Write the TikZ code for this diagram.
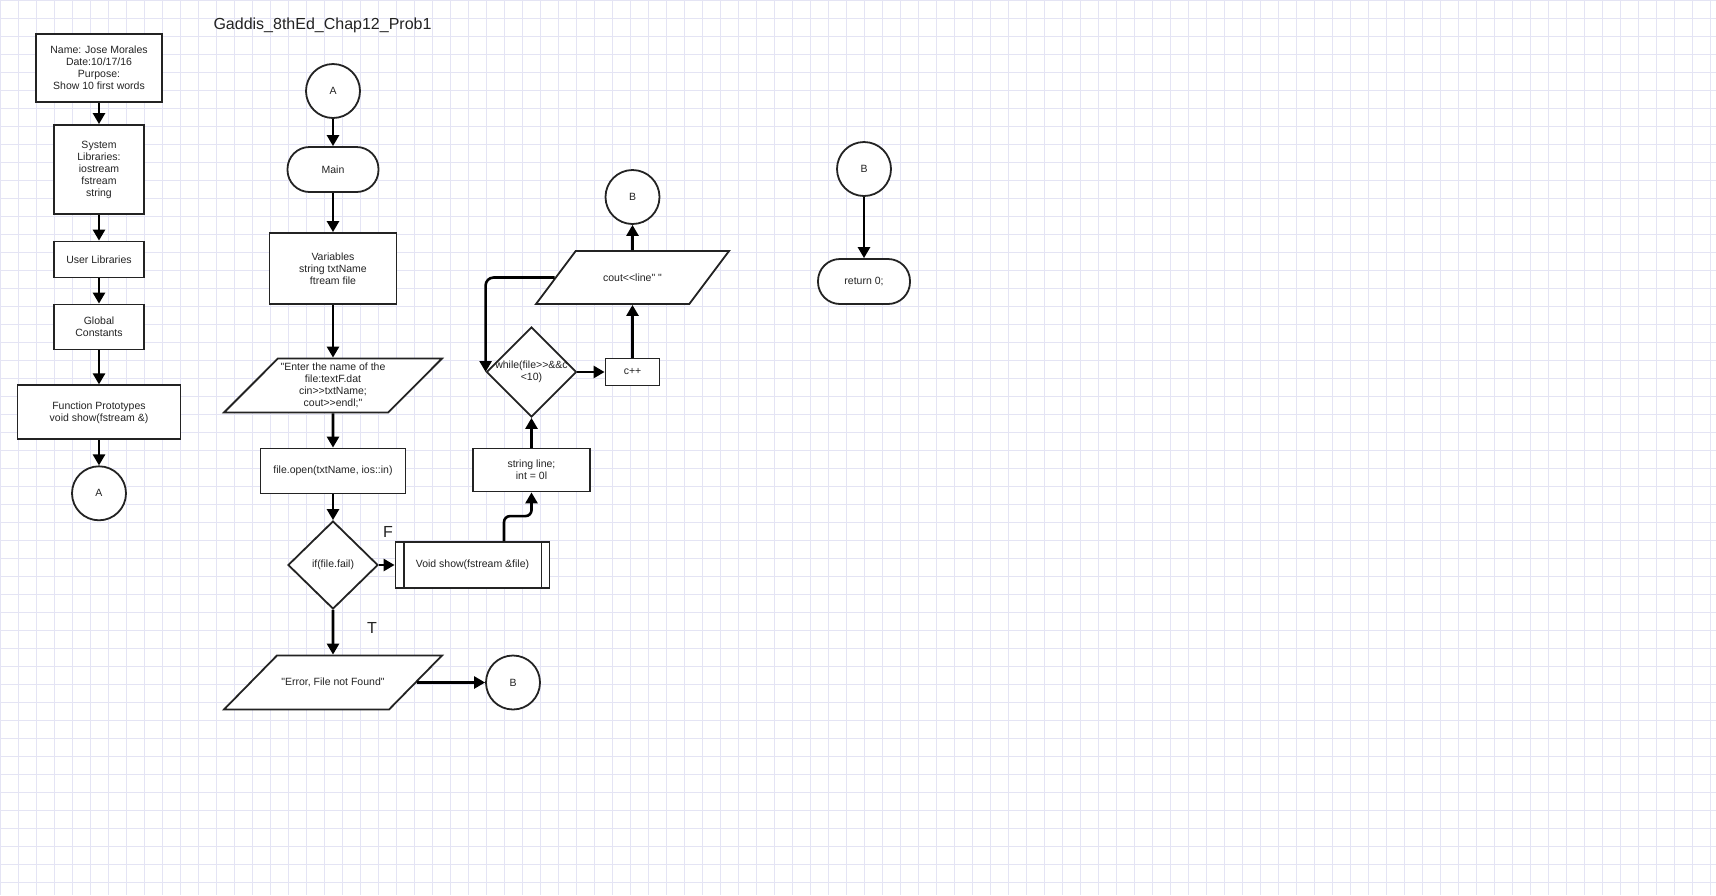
\documentclass[tikz,border=0pt]{standalone}
\usepackage{fontspec}
\setmainfont{Liberation Sans}[Ligatures=TeXOff]
\usetikzlibrary{shapes,arrows.meta}
\definecolor{gridline}{RGB}{228,228,244}
\definecolor{ink}{RGB}{35,35,35}
\begin{document}
\begin{tikzpicture}[x=1pt,y=-1pt,node distance=90pt]
\tikzstyle{txt}=[font=\fontsize{10.5}{12}\selectfont,text=ink,align=center]
\tikzstyle{box}=[draw=ink,line width=1.8pt,fill=white,rectangle,inner sep=1pt,txt]
\tikzstyle{term}=[box,rounded corners=22pt,minimum height=45pt]
\tikzstyle{connector}=[box,circle,minimum size=54pt,inner sep=0pt]
\tikzstyle{io}=[box,trapezium,trapezium left angle=45,trapezium right angle=135,trapezium stretches body=true,inner xsep=1pt,minimum height=54pt,minimum width=218pt]
\tikzstyle{decision}=[box,diamond,minimum width=90pt,minimum height=88pt,inner sep=0pt]
\tikzstyle{arrow}=[draw=black,line width=2.6pt,-{Triangle[length=11pt,width=12pt]}]
\tikzstyle{bigtxt}=[font=\fontsize{16}{19}\selectfont,text=ink]
\useasboundingbox (0,0) rectangle (1716,895);
\fill[white] (0,0) rectangle (1716,895);
\draw[gridline,line width=0.6pt,step=18pt] (0,0) grid (1716,895);
\node [bigtxt,anchor=west] (title) at (210,25) {Gaddis\_8thEd\_Chap12\_Prob1};
% header column
\node [box,minimum width=126pt,minimum height=68pt] (name) at (99,68) {Name: Jose Morales\\Date:10/17/16\\Purpose:\\Show 10 first words};
\node [box,below of=name,node distance=101.5pt,minimum width=90pt,minimum height=89pt] (syslib) {System\\Libraries:\\iostream\\fstream\\string};
\node [box,below of=syslib,node distance=90pt,minimum width=90pt,minimum height=36pt] (usrlib) {User Libraries};
\node [box,below of=usrlib,node distance=67.5pt,minimum width=90pt,minimum height=45pt] (glob) {Global\\Constants};
\node [box,below of=glob,node distance=85.3pt,minimum width=163pt,minimum height=54pt] (proto) {Function Prototypes\\void show(fstream \&)};
\node [connector,below of=proto,node distance=81pt] (gotoA) {A};
% main
\node [connector] (fromA) at (333,91) {A};
\node [term,below of=fromA,node distance=78.5pt,minimum width=91pt] (main) {Main};
\node [box,below of=main,node distance=99pt,minimum width=127pt,minimum height=71pt] (vars) {Variables\\string txtName\\ftream file};
\node [io,inner ysep=4.5pt,below of=vars,node distance=117pt] (enter) {"Enter the name of the\\file:textF.dat\\cin>>txtName;\\cout>>endl;"};
\node [box,below of=enter,node distance=85.5pt,minimum width=145pt,minimum height=45pt] (open) {file.open(txtName, ios::in)};
\node [decision,below of=open,node distance=94pt] (fail) {if(file.fail)};
\node [io,inner ysep=22pt,below of=fail,node distance=117.5pt] (error) {"Error, File not Found"};
\node [connector,right of=error,node distance=180pt] (gotoB) {B};
\node [box,right of=fail,node distance=139.5pt,minimum width=154pt,minimum height=46pt] (show) {Void show(fstream \&file)};
\draw[draw=ink,line width=1.8pt] ([xshift=9pt]show.north west) -- ([xshift=9pt]show.south west)
    ([xshift=-9pt]show.north east) -- ([xshift=-9pt]show.south east);
\node [bigtxt] (flabel) at (388,532) {F};
\node [bigtxt] (tlabel) at (372,628) {T};
% show function
\node [box,minimum width=117pt,minimum height=43pt] (strline) at (531.5,470) {string line;\\int = 0l};
\node [decision,minimum height=90pt,label={[txt]center:while(file>>\&\&c\\<10)}] (while) at (531.5,372) {};
\node [box,minimum width=54pt,minimum height=27pt] (cpp) at (632.5,372) {c++};
\node [io,inner ysep=22.5pt,trapezium left angle=53,trapezium right angle=127,minimum width=193pt,minimum height=53pt] (cout) at (632.5,277.5) {cout<<line" "};
\node [connector] (backB) at (632.5,197) {B};
% end
\node [connector] (endB) at (864,169) {B};
\node [term,below of=endB,node distance=112.5pt,minimum width=92pt] (ret) {return 0;};
\path[arrow]
    (name) edge (syslib)
    (syslib) edge (usrlib)
    (usrlib) edge (glob)
    (glob) edge (proto)
    (proto) edge (gotoA);
\path[arrow]
    (fromA) edge (main)
    (main) edge (vars)
    (vars) edge (enter)
    (enter) edge (open)
    (open) edge (fail)
    (fail) edge (show)
    (fail) edge (error)
    (error) edge (gotoB);
\path[arrow]
    (strline) edge (while)
    (while) edge (cpp)
    (cout) edge (backB)
    (endB) edge (ret);
\draw[arrow] (cpp) -- (cpp |- cout.south);
\draw[arrow,rounded corners=6pt] ([xshift=31.5pt]show.north) -- ++(0,-25) -| (strline);
\draw[arrow,rounded corners=8pt] (cout.west) -| (while.west);
\end{tikzpicture}
\end{document}
